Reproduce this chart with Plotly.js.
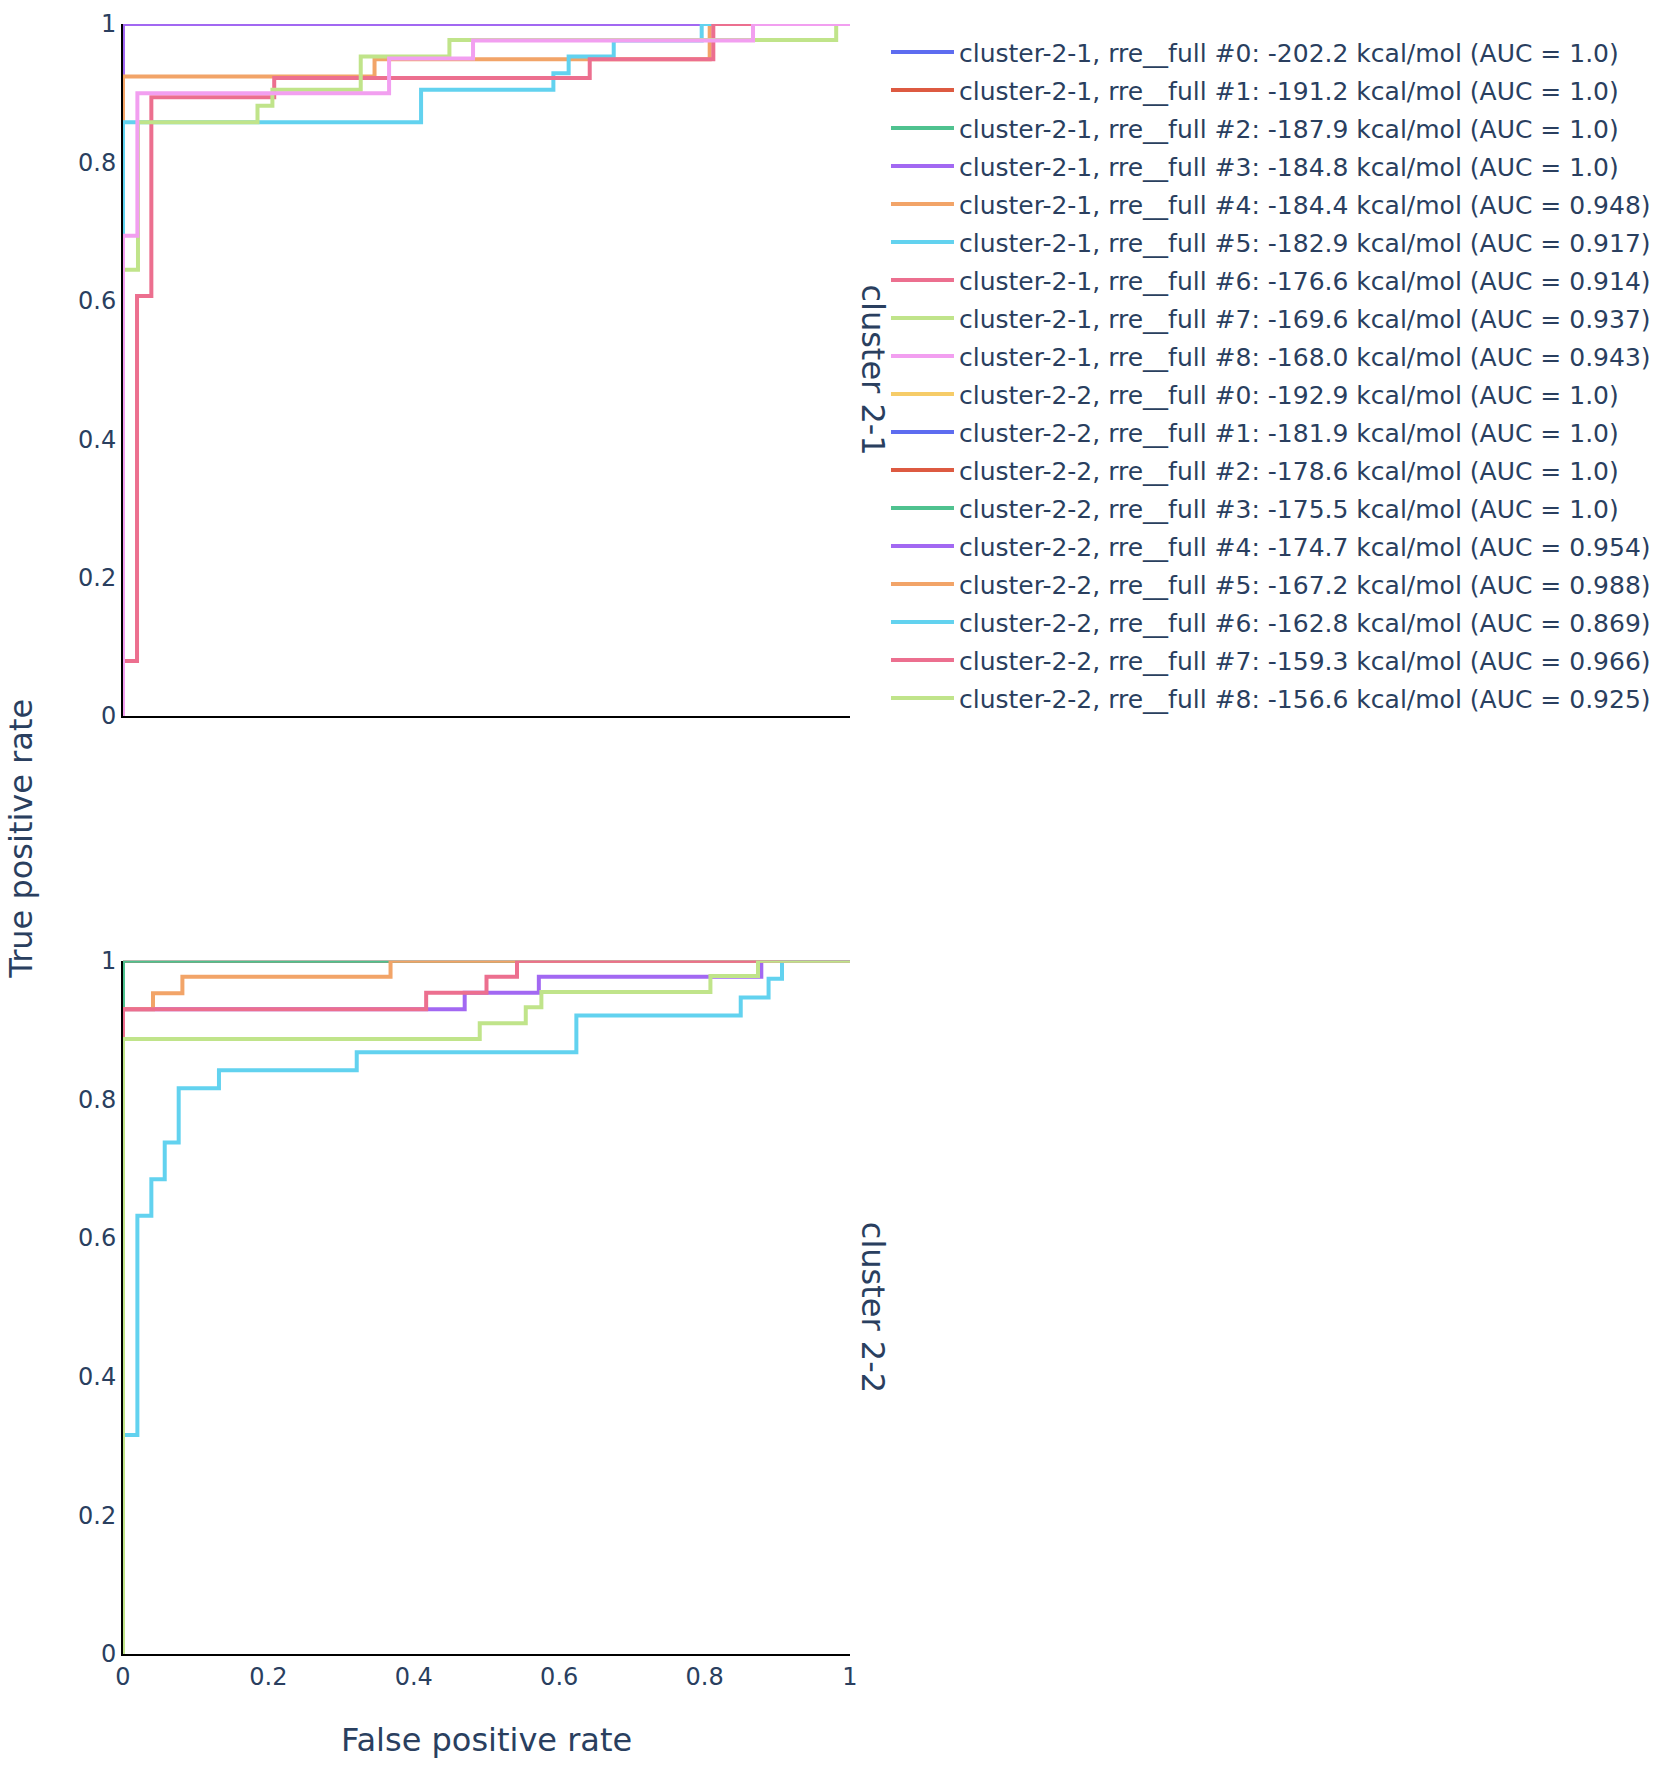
<!DOCTYPE html>
<html>
<head>
<meta charset="utf-8">
<script src="https://cdn.plot.ly/plotly-3.0.1.min.js"></script>
<style>html,body{margin:0;padding:0;background:#fff;}#chart{width:1662px;height:1766px;}</style>
</head>
<body>
<div id="chart"></div>
<script>
// ---------- data ----------
const clusterNames = ["cluster-2-1", "cluster-2-2"];
const facetLabels = ["cluster 2-1", "cluster 2-2"];
const modelIds = ["#0", "#1", "#2", "#3", "#4", "#5", "#6", "#7", "#8"];
const energies21 = ["-202.2", "-191.2", "-187.9", "-184.8", "-184.4", "-182.9", "-176.6", "-169.6", "-168.0"];
const energies22 = ["-192.9", "-181.9", "-178.6", "-175.5", "-174.7", "-167.2", "-162.8", "-159.3", "-156.6"];
const auc21 = ["1.0", "1.0", "1.0", "1.0", "0.948", "0.917", "0.914", "0.937", "0.943"];
const auc22 = ["1.0", "1.0", "1.0", "1.0", "0.954", "0.988", "0.869", "0.966", "0.925"];
const colors = ["#5d6cf0", "#dd5a41", "#4fc28f", "#a268f2", "#f2a468", "#62d2ef", "#ec6f8f", "#c0e48a", "#f29ff0", "#f6cc68"];

// cluster-2-1 ROC curves (false positive rate / true positive rate)
const fpr21_0 = [0, 0, 1];            const tpr21_0 = [0, 1, 1];
const fpr21_1 = [0, 0, 1];            const tpr21_1 = [0, 1, 1];
const fpr21_2 = [0, 0, 1];            const tpr21_2 = [0, 1, 1];
const fpr21_3 = [0, 0, 1];            const tpr21_3 = [0, 1, 1];
const fpr21_4 = [0, 0, 0.346, 0.346, 0.807, 0.807, 1];
const tpr21_4 = [0, 0.924, 0.924, 0.949, 0.949, 1, 1];
const fpr21_5 = [0, 0, 0.41, 0.41, 0.592, 0.592, 0.613, 0.613, 0.675, 0.675, 0.796, 0.796, 1];
const tpr21_5 = [0, 0.858, 0.858, 0.905, 0.905, 0.929, 0.929, 0.953, 0.953, 0.976, 0.976, 1, 1];
const fpr21_6 = [0, 0, 0.0193, 0.0193, 0.039, 0.039, 0.208, 0.208, 0.642, 0.642, 0.812, 0.812, 1];
const tpr21_6 = [0, 0.0795, 0.0795, 0.607, 0.607, 0.894, 0.894, 0.922, 0.922, 0.949, 0.949, 1, 1];
const fpr21_7 = [0, 0, 0.0206, 0.0206, 0.185, 0.185, 0.2055, 0.2055, 0.327, 0.327, 0.449, 0.449, 0.981, 0.981, 1];
const tpr21_7 = [0, 0.645, 0.645, 0.858, 0.858, 0.882, 0.882, 0.905, 0.905, 0.953, 0.953, 0.977, 0.977, 1, 1];
const fpr21_8 = [0, 0, 0.0198, 0.0198, 0.366, 0.366, 0.4815, 0.4815, 0.8666, 0.8666, 1];
const tpr21_8 = [0, 0.694, 0.694, 0.9, 0.9, 0.95, 0.95, 0.976, 0.976, 1, 1];

// cluster-2-2 ROC curves
const fpr22_0 = [0, 0, 1];            const tpr22_0 = [0, 1, 1];
const fpr22_1 = [0, 0, 1];            const tpr22_1 = [0, 1, 1];
const fpr22_2 = [0, 0, 1];            const tpr22_2 = [0, 1, 1];
const fpr22_3 = [0, 0, 1];            const tpr22_3 = [0, 1, 1];
const fpr22_4 = [0, 0, 0.47, 0.47, 0.572, 0.572, 0.878, 0.878, 1];
const tpr22_4 = [0, 0.93, 0.93, 0.954, 0.954, 0.977, 0.977, 1, 1];
const fpr22_5 = [0, 0, 0.0413, 0.0413, 0.0817, 0.0817, 0.368, 0.368, 1];
const tpr22_5 = [0, 0.93, 0.93, 0.953, 0.953, 0.977, 0.977, 1, 1];
const fpr22_6 = [0, 0, 0.0198, 0.0198, 0.039, 0.039, 0.0574, 0.0574, 0.0766, 0.0766, 0.132, 0.132, 0.3215, 0.3215, 0.6236, 0.6236, 0.8497, 0.8497, 0.888, 0.888, 0.9065, 0.9065, 1];
const tpr22_6 = [0, 0.316, 0.316, 0.632, 0.632, 0.685, 0.685, 0.738, 0.738, 0.816, 0.816, 0.842, 0.842, 0.868, 0.868, 0.921, 0.921, 0.947, 0.947, 0.974, 0.974, 1, 1];
const fpr22_7 = [0, 0, 0.417, 0.417, 0.5, 0.5, 0.542, 0.542, 1];
const tpr22_7 = [0, 0.93, 0.93, 0.954, 0.954, 0.977, 0.977, 1, 1];
const fpr22_8 = [0, 0, 0.4907, 0.4907, 0.554, 0.554, 0.5755, 0.5755, 0.808, 0.808, 0.8735, 0.8735, 1];
const tpr22_8 = [0, 0.887, 0.887, 0.91, 0.91, 0.933, 0.933, 0.955, 0.955, 0.978, 0.978, 1, 1];

const xTickVals = [0, 0.2, 0.4, 0.6, 0.8, 1];
const xTickText = ["0", "0.2", "0.4", "0.6", "0.8", "1"];
const yTickVals = [0, 0.2, 0.4, 0.6, 0.8, 1];
const yTickText = ["0", "0.2", "0.4", "0.6", "0.8", "1"];

// ---------- build traces ----------
const F21 = [fpr21_0, fpr21_1, fpr21_2, fpr21_3, fpr21_4, fpr21_5, fpr21_6, fpr21_7, fpr21_8];
const T21 = [tpr21_0, tpr21_1, tpr21_2, tpr21_3, tpr21_4, tpr21_5, tpr21_6, tpr21_7, tpr21_8];
const F22 = [fpr22_0, fpr22_1, fpr22_2, fpr22_3, fpr22_4, fpr22_5, fpr22_6, fpr22_7, fpr22_8];
const T22 = [tpr22_0, tpr22_1, tpr22_2, tpr22_3, tpr22_4, tpr22_5, tpr22_6, tpr22_7, tpr22_8];

const traces = [];
let ci = 0;
[[F21, T21, energies21, auc21, 'x', 'y'], [F22, T22, energies22, auc22, 'x2', 'y2']].forEach((grp, g) => {
  const [F, T, E, A, xa, ya] = grp;
  for (let i = 0; i < F.length; i++) {
    traces.push({
      type: 'scatter', mode: 'lines',
      x: F[i], y: T[i], xaxis: xa, yaxis: ya,
      name: clusterNames[g] + ', rre__full ' + modelIds[i] + ': ' + E[i] + ' kcal/mol (AUC = ' + A[i] + ')',
      legendgroup: 'g' + ci,
      line: {color: colors[ci % colors.length], width: 4},
      hoverinfo: 'x+y+name'
    });
    ci++;
  }
});

const fontFam = '"DejaVu Sans", Verdana, sans-serif';
const txtCol = '#2a3f5f';
const axBase = {
  range: [0, 1], showgrid: false, zeroline: false,
  showline: true, linecolor: '#000', linewidth: 2,
  ticks: '', tickfont: {size: 24, color: txtCol, family: fontFam}
};

const topLow = 0.5755, botHigh = 0.4253;

const layout = {
  width: 1662, height: 1766,
  margin: {l: 123, r: 812, t: 24, b: 112, autoexpand: false},
  paper_bgcolor: '#fff', plot_bgcolor: '#fff',
  font: {family: fontFam, size: 24, color: txtCol},
  showlegend: true,
  legend: {
    x: 1.0495, xanchor: 'left', y: 0.9968, yanchor: 'top',
    font: {size: 25, family: fontFam, color: txtCol},
    tracegroupgap: 2.5, itemwidth: 63, bgcolor: 'rgba(0,0,0,0)'
  },
  xaxis: Object.assign({}, axBase, {domain: [0, 1], anchor: 'y', showticklabels: false, matches: 'x2'}),
  yaxis: Object.assign({}, axBase, {domain: [topLow, 1], anchor: 'x', tickvals: yTickVals, ticktext: yTickText}),
  xaxis2: Object.assign({}, axBase, {domain: [0, 1], anchor: 'y2', tickvals: xTickVals, ticktext: xTickText}),
  yaxis2: Object.assign({}, axBase, {domain: [0, botHigh], anchor: 'x2', tickvals: yTickVals, ticktext: yTickText}),
  annotations: [
    {text: facetLabels[0], xref: 'paper', yref: 'paper', x: 1.031, y: (topLow + 1) / 2, xanchor: 'center', yanchor: 'middle', textangle: 90, showarrow: false, font: {size: 32, family: fontFam, color: txtCol}},
    {text: facetLabels[1], xref: 'paper', yref: 'paper', x: 1.031, y: botHigh / 2, xanchor: 'center', yanchor: 'middle', textangle: 90, showarrow: false, font: {size: 32, family: fontFam, color: txtCol}},
    {text: 'True positive rate', xref: 'paper', yref: 'paper', x: -0.1407, y: 0.5, xanchor: 'center', yanchor: 'middle', textangle: -90, showarrow: false, font: {size: 32, family: fontFam, color: txtCol}},
    {text: 'False positive rate', xref: 'paper', yref: 'paper', x: 0.5, y: -0.0528, xanchor: 'center', yanchor: 'middle', showarrow: false, font: {size: 32, family: fontFam, color: txtCol}}
  ]
};

Plotly.newPlot('chart', traces, layout, {displayModeBar: false, staticPlot: false});
</script>
</body>
</html>
